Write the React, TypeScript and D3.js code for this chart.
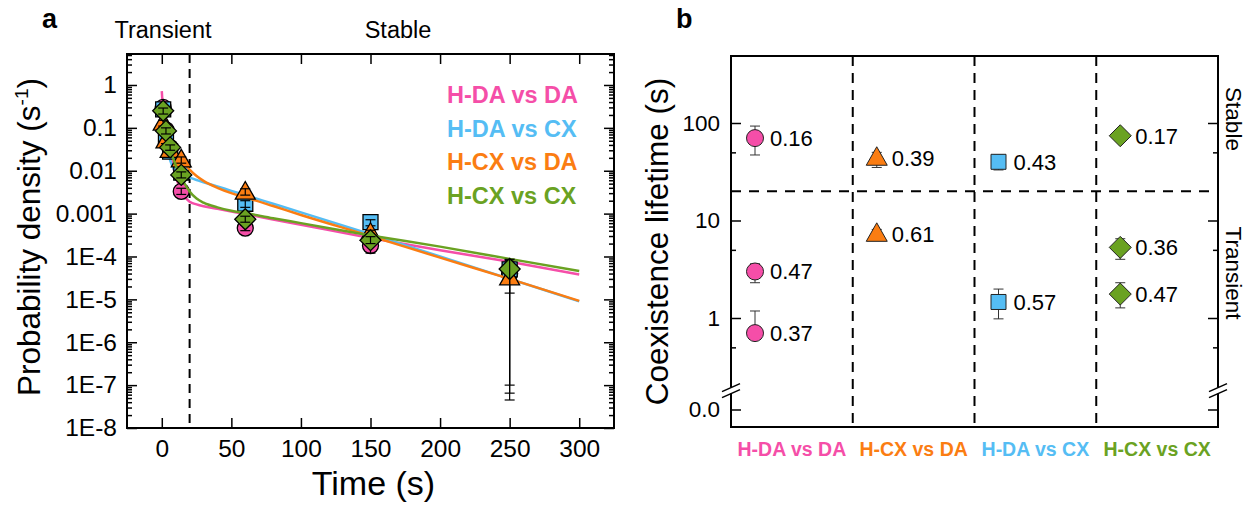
import React, { useEffect, useRef } from 'react';
import * as d3 from 'd3';

// ---- panel a: probability density vs time ----
const seriesNames = ['H-DA vs DA', 'H-DA vs CX', 'H-CX vs DA', 'H-CX vs CX'];
const seriesColors = ['#f54ea8', '#55bdf4', '#fb7d12', '#6aa222'];
const seriesShapes = ['circle', 'square', 'triangle', 'diamond'];

const pointTimes = [1, 3, 6, 14, 60, 150, 250];
const pinkPts = [0.3, 0.09, 0.035, 0.0033, 0.00046, 0.00018, 4e-5];
const bluePts = [0.27, 0.065, 0.028, 0.009, 0.0017, 0.00063, 5e-5];
const orangePts = [0.13, 0.05, 0.03, 0.018, 0.0032, 0.00035, 3.2e-5];
const greenPts = [0.25, 0.085, 0.035, 0.008, 0.00074, 0.00024, 5.1e-5];

const pinkLo = [0.25, 0.075, 0.03, 0.0028, 0.0004, 0.00012, 1e-7];
const pinkHi = [0.36, 0.11, 0.04, 0.0039, 0.00053, 0.00025, 8.6e-5];
const blueLo = [0.22, 0.055, 0.024, 0.0077, 0.0014, 0.00052, 6.5e-8];
const blueHi = [0.32, 0.075, 0.032, 0.0105, 0.002, 0.00072, 8e-5];
const orangeLo = [0.11, 0.043, 0.026, 0.015, 0.0027, 0.0003, 1.4e-5];
const orangeHi = [0.15, 0.058, 0.035, 0.021, 0.0038, 0.00041, 5e-5];
const greenLo = [0.21, 0.072, 0.03, 0.0068, 0.00063, 0.0002, 4.5e-8];
const greenHi = [0.29, 0.1, 0.04, 0.0094, 0.00087, 0.00029, 8.6e-5];

const fitTimes = [0, 1, 2, 3, 5, 7.5, 10, 12.5, 15, 20, 25, 30, 40, 50, 60, 80, 100, 150, 200, 250, 300];
const pinkFit = [0.72, 0.24, 0.113, 0.067, 0.032, 0.0149, 0.0076, 0.0043, 0.0029, 0.0019, 0.00164, 0.00148, 0.00129, 0.00112, 0.00097, 0.00073, 0.00055, 0.00027, 0.00014, 7.5e-5, 3.8e-5];
const blueFit = [0.4, 0.2, 0.105, 0.058, 0.024, 0.0128, 0.0095, 0.0085, 0.0078, 0.0069, 0.0061, 0.0054, 0.0043, 0.0034, 0.0027, 0.0017, 0.00107, 0.00033, 0.0001, 3.0e-5, 9e-6];
const orangeFit = [0.096, 0.084, 0.074, 0.065, 0.05, 0.037, 0.028, 0.021, 0.0165, 0.0106, 0.0075, 0.0058, 0.004, 0.003, 0.0024, 0.0015, 0.00093, 0.0003, 9.4e-5, 3.0e-5, 9.2e-6];
const greenFit = [0.34, 0.21, 0.134, 0.089, 0.044, 0.0224, 0.0133, 0.0086, 0.006, 0.0033, 0.00225, 0.0018, 0.0014, 0.00117, 0.00103, 0.00078, 0.0006, 0.00031, 0.00017, 8.8e-5, 4.6e-5];

const timeTicks = [0, 50, 100, 150, 200, 250, 300];
const densityTicks = [1e-8, 1e-7, 1e-6, 1e-5, 1e-4, 0.001, 0.01, 0.1, 1];
const densityLabels = ['1E-8', '1E-7', '1E-6', '1E-5', '1E-4', '0.001', '0.01', '0.1', '1'];
const phaseCut = 20;

// ---- panel b: coexistence lifetimes ----
const categories = ['H-DA vs DA', 'H-CX vs DA', 'H-DA vs CX', 'H-CX vs CX'];
const catColors = ['#f54ea8', '#fb7d12', '#55bdf4', '#6aa222'];
const catShapes = ['circle', 'triangle', 'square', 'diamond'];
const tauValues = [[70, 3.0, 0.7], [44, 7.3], [40, 1.46], [74, 5.3, 1.76]];
const tauLow = [[47, 2.3, 0.62], [35, 6.6], [33, 0.98], [66, 4.0, 1.27]];
const tauHigh = [[93, 3.6, 1.18], [50, 8.1], [47, 1.98], [83, 6.5, 2.3]];
const tauWeights = [['0.16', '0.47', '0.37'], ['0.39', '0.61'], ['0.43', '0.57'], ['0.17', '0.36', '0.47']];
const lifetimeTicks = [1, 10, 100];
const lifetimeMinor = [0.5, 5, 50];

const FONT = '"Liberation Sans", Arial, Helvetica, sans-serif';

const shapePath = (shape: string, s: number) => {
  if (shape === 'circle') return d3.symbol(d3.symbolCircle, Math.PI * s * s)() as string;
  if (shape === 'square') return `M${-s},${-s}H${s}V${s}H${-s}Z`;
  if (shape === 'triangle') return `M0,${-s * 1.1}L${s * 1.05},${s * 0.75}L${-s * 1.05},${s * 0.75}Z`;
  return `M0,${-s}L${s},0L0,${s}L${-s},0Z`;
};

const App = () => {
  const svgRef = useRef<SVGSVGElement>(null);

  useEffect(() => {
    const svg = d3.select(svgRef.current);
    svg.selectAll('*').remove();
    svg.attr('font-family', FONT);

    // ================= panel a =================
    const A = { left: 127, right: 614, top: 54, bottom: 428 };
    const x = d3.scaleLinear().domain([-25, 325]).range([A.left, A.right]);
    const y = d3.scaleLog().domain([1e-8, 5.28]).range([A.bottom, A.top]);

    svg.append('text').attr('x', 42).attr('y', 28).attr('font-size', 27).attr('font-weight', 'bold').text('a');
    svg.append('text').attr('x', 163).attr('y', 38).attr('font-size', 23.5).attr('text-anchor', 'middle').text('Transient');
    svg.append('text').attr('x', 398).attr('y', 38).attr('font-size', 23.5).attr('text-anchor', 'middle').text('Stable');

    const minorA: number[] = [];
    for (let e = -8; e <= 0; e++) for (let m = 2; m <= 9; m++) {
      const v = m * Math.pow(10, e);
      if (v < 5.28) minorA.push(v);
    }

    const axisStyle = (g: any, size: number) => {
      g.select('.domain').remove();
      g.attr('font-family', FONT).attr('font-size', size);
      g.selectAll('line').attr('stroke', '#000').attr('stroke-width', 1.5);
      g.selectAll('text').attr('fill', '#000');
    };

    const leftA = svg.append('g').attr('transform', `translate(${A.left},0)`)
      .call(d3.axisLeft(y).tickValues(densityTicks).tickSize(-10).tickPadding(10)
        .tickFormat((d: any) => densityLabels[densityTicks.indexOf(d)]));
    axisStyle(leftA, 24.5);
    const leftMinor = svg.append('g').attr('transform', `translate(${A.left},0)`)
      .call(d3.axisLeft(y).tickValues(minorA).tickSize(-5).tickFormat(() => ''));
    axisStyle(leftMinor, 10);
    const rightA = svg.append('g').attr('transform', `translate(${A.right},0)`)
      .call(d3.axisRight(y).tickValues(densityTicks).tickSize(-10).tickFormat(() => ''));
    axisStyle(rightA, 10);
    const rightMinor = svg.append('g').attr('transform', `translate(${A.right},0)`)
      .call(d3.axisRight(y).tickValues(minorA).tickSize(-5).tickFormat(() => ''));
    axisStyle(rightMinor, 10);
    const bottomA = svg.append('g').attr('transform', `translate(0,${A.bottom})`)
      .call(d3.axisBottom(x).tickValues(timeTicks).tickSize(-10).tickPadding(12));
    axisStyle(bottomA, 24.5);
    const topA = svg.append('g').attr('transform', `translate(0,${A.top})`)
      .call(d3.axisTop(x).tickValues(timeTicks).tickSize(-10).tickFormat(() => ''));
    axisStyle(topA, 10);

    svg.append('line')
      .attr('x1', x(phaseCut)).attr('x2', x(phaseCut))
      .attr('y1', A.top).attr('y2', A.bottom)
      .attr('stroke', '#000').attr('stroke-width', 2).attr('stroke-dasharray', '9,6');

    svg.append('defs').append('clipPath').attr('id', 'clipA')
      .append('rect').attr('x', A.left).attr('y', A.top)
      .attr('width', A.right - A.left).attr('height', A.bottom - A.top);

    const fits = [pinkFit, blueFit, orangeFit, greenFit];
    const pts = [pinkPts, bluePts, orangePts, greenPts];
    const los = [pinkLo, blueLo, orangeLo, greenLo];
    const his = [pinkHi, blueHi, orangeHi, greenHi];
    const sizesA: any = { circle: 8, square: 7.5, triangle: 9.5, diamond: 10.5 };

    const line = d3.line<number>()
      .x((_, i) => x(fitTimes[i]))
      .y(d => y(d))
      .curve(d3.curveMonotoneX);

    const plotA = svg.append('g').attr('clip-path', 'url(#clipA)');
    seriesNames.forEach((name, si) => {
      plotA.append('path')
        .datum(fits[si])
        .attr('fill', 'none')
        .attr('stroke', seriesColors[si])
        .attr('stroke-width', 2.5)
        .attr('d', line);

      plotA.selectAll(`.m${si}`)
        .data(pts[si])
        .enter()
        .append('path')
        .attr('transform', (d, i) => `translate(${x(pointTimes[i])},${y(d)})`)
        .attr('d', shapePath(seriesShapes[si], sizesA[seriesShapes[si]]))
        .attr('fill', seriesColors[si])
        .attr('stroke', '#000')
        .attr('stroke-width', 1.3);

      pts[si].forEach((_, i) => {
        const cx = x(pointTimes[i]);
        const y0 = y(los[si][i]);
        const y1 = y(his[si][i]);
        const eb = plotA.append('g').attr('stroke', '#000').attr('stroke-width', 1.2);
        eb.append('line').attr('x1', cx).attr('x2', cx).attr('y1', y0).attr('y2', y1);
        eb.append('line').attr('x1', cx - 5).attr('x2', cx + 5).attr('y1', y0).attr('y2', y0);
        eb.append('line').attr('x1', cx - 5).attr('x2', cx + 5).attr('y1', y1).attr('y2', y1);
      });
    });

    // legend
    seriesNames.forEach((name, si) => {
      svg.append('text')
        .attr('x', 447).attr('y', 103 + si * 33.5)
        .attr('font-size', 23.5).attr('font-weight', 'bold')
        .attr('fill', seriesColors[si])
        .text(name);
    });

    svg.append('rect')
      .attr('x', A.left).attr('y', A.top)
      .attr('width', A.right - A.left).attr('height', A.bottom - A.top)
      .attr('fill', 'none').attr('stroke', '#000').attr('stroke-width', 2);

    svg.append('text')
      .attr('transform', `translate(40,${(A.top + A.bottom) / 2 - 4}) rotate(-90)`)
      .attr('text-anchor', 'middle').attr('font-size', 31.5)
      .text('Probability density (s')
      .call((t: any) => {
        t.append('tspan').attr('font-size', 19).attr('dy', -12).text('-1');
        t.append('tspan').attr('dy', 12).text(')');
      });

    svg.append('text')
      .attr('x', (A.left + A.right) / 2 + 3).attr('y', 495)
      .attr('text-anchor', 'middle').attr('font-size', 34)
      .text('Time (s)');

    // ================= panel b =================
    const B = { left: 731, right: 1218, top: 56, bottom: 427 };
    const xb = d3.scaleBand().domain(categories).range([B.left, B.right]);
    const yb = d3.scaleLog().domain([1, 100]).range([318, 123]);
    const breakY = yb(0.18);
    const zeroY = 410;

    svg.append('text').attr('x', 676).attr('y', 28).attr('font-size', 27).attr('font-weight', 'bold').text('b');

    const leftB = svg.append('g').attr('transform', `translate(${B.left},0)`)
      .call(d3.axisLeft(yb).tickValues(lifetimeTicks).tickSize(-10).tickPadding(11).tickFormat(d3.format('d')));
    axisStyle(leftB, 22.5);
    const leftBMinor = svg.append('g').attr('transform', `translate(${B.left},0)`)
      .call(d3.axisLeft(yb).tickValues(lifetimeMinor).tickSize(-5).tickFormat(() => ''));
    axisStyle(leftBMinor, 10);
    const rightB = svg.append('g').attr('transform', `translate(${B.right},0)`)
      .call(d3.axisRight(yb).tickValues(lifetimeTicks).tickSize(-10).tickFormat(() => ''));
    axisStyle(rightB, 10);
    const rightBMinor = svg.append('g').attr('transform', `translate(${B.right},0)`)
      .call(d3.axisRight(yb).tickValues(lifetimeMinor).tickSize(-5).tickFormat(() => ''));
    axisStyle(rightBMinor, 10);

    // zero tick under the axis break
    [B.left, B.right].forEach((ax, k) => {
      svg.append('line').attr('x1', ax).attr('x2', k === 0 ? ax + 10 : ax - 10)
        .attr('y1', zeroY).attr('y2', zeroY).attr('stroke', '#000').attr('stroke-width', 1.5);
    });
    svg.append('text').attr('x', B.left - 11).attr('y', zeroY).attr('dy', '0.32em')
      .attr('text-anchor', 'end').attr('font-size', 22.5).text('0.0');

    // column separators and stable/transient threshold
    categories.slice(1).forEach(c => {
      svg.append('line').attr('x1', xb(c)!).attr('x2', xb(c)!)
        .attr('y1', B.top).attr('y2', B.bottom)
        .attr('stroke', '#000').attr('stroke-width', 2).attr('stroke-dasharray', '10,7');
    });
    svg.append('line').attr('x1', B.left).attr('x2', B.right)
      .attr('y1', yb(phaseCut)).attr('y2', yb(phaseCut))
      .attr('stroke', '#000').attr('stroke-width', 2).attr('stroke-dasharray', '10,8');

    // frame with axis breaks
    svg.append('path')
      .attr('d', `M${B.left},${breakY - 3}V${B.top}H${B.right}V${breakY - 3}M${B.right},${breakY + 3}V${B.bottom}H${B.left}V${breakY + 3}`)
      .attr('fill', 'none').attr('stroke', '#000').attr('stroke-width', 2);
    [B.left, B.right].forEach(ax => {
      [-3, 3].forEach(off => {
        svg.append('line')
          .attr('x1', ax - 9).attr('y1', breakY + off + 4)
          .attr('x2', ax + 9).attr('y2', breakY + off - 4)
          .attr('stroke', '#000').attr('stroke-width', 1.5);
      });
    });

    const sizesB: any = { circle: 8.5, square: 7.5, triangle: 10, diamond: 11 };
    categories.forEach((c, ci) => {
      const cx = xb(c)! + 24;
      tauValues[ci].forEach((tau, j) => {
        const y0 = yb(tauLow[ci][j]);
        const y1 = yb(tauHigh[ci][j]);
        const eb = svg.append('g').attr('stroke', '#333').attr('stroke-width', 1);
        eb.append('line').attr('x1', cx).attr('x2', cx).attr('y1', y0).attr('y2', y1);
        eb.append('line').attr('x1', cx - 5).attr('x2', cx + 5).attr('y1', y0).attr('y2', y0);
        eb.append('line').attr('x1', cx - 5).attr('x2', cx + 5).attr('y1', y1).attr('y2', y1);

        svg.append('path')
          .attr('transform', `translate(${cx},${yb(tau)})`)
          .attr('d', shapePath(catShapes[ci], sizesB[catShapes[ci]]))
          .attr('fill', catColors[ci]).attr('stroke', '#222').attr('stroke-width', 1);

        svg.append('text')
          .attr('x', cx + 15).attr('y', yb(tau)).attr('dy', '0.36em')
          .attr('font-size', 22).text(tauWeights[ci][j]);
      });

      svg.append('text')
        .attr('x', xb(c)! + xb.bandwidth() / 2).attr('y', 456)
        .attr('text-anchor', 'middle').attr('font-size', 19.5).attr('font-weight', 'bold')
        .attr('fill', catColors[ci]).text(c);
    });

    svg.append('text')
      .attr('transform', `translate(668,${(B.top + B.bottom) / 2}) rotate(-90)`)
      .attr('text-anchor', 'middle').attr('font-size', 31.5)
      .text('Coexistence lifetime (s)');

    svg.append('text')
      .attr('transform', `translate(1226,119) rotate(90)`)
      .attr('text-anchor', 'middle').attr('font-size', 22.5).text('Stable');
    svg.append('text')
      .attr('transform', `translate(1226,273) rotate(90)`)
      .attr('text-anchor', 'middle').attr('font-size', 22.5).text('Transient');
  }, []);

  return (
    <svg ref={svgRef} width={1253} height={506}
      style={{ position: 'absolute', left: 0, top: 0, background: '#fff' }} />
  );
};

export default App;
